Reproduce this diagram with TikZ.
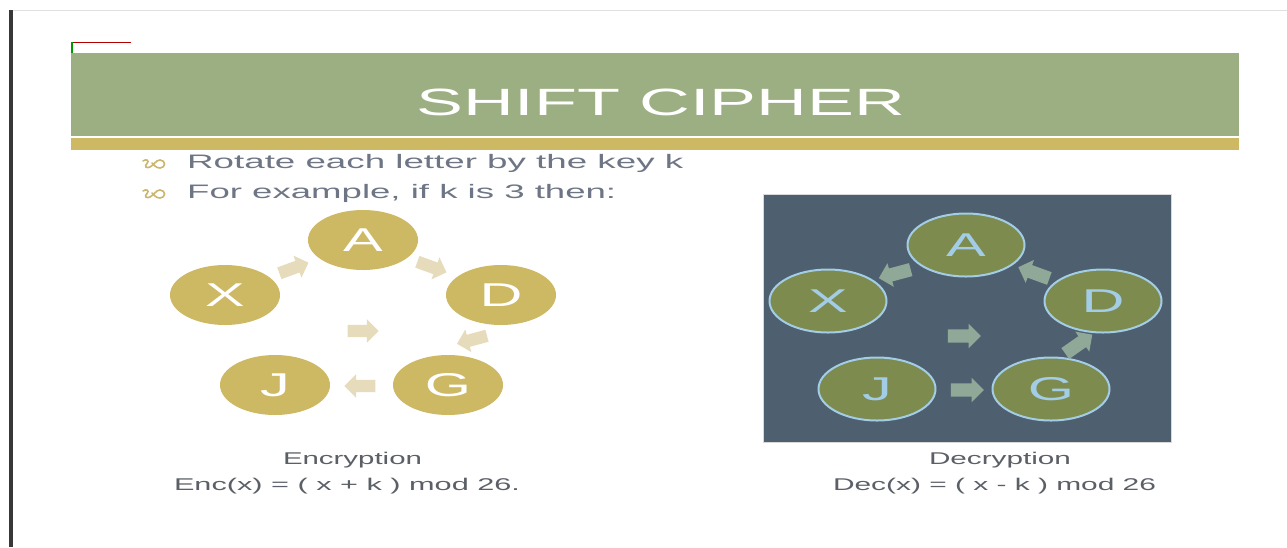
\documentclass[tikz,border=0pt]{standalone}
\usepackage{fontspec}
\setmainfont{Liberation Sans}
\usetikzlibrary{shapes.geometric,shapes.arrows}
\newcommand\wfit[2]{\resizebox{#1}{\height}{#2}}
\newcommand\widelet[1]{\scalebox{1.8}[1]{#1}}
\definecolor{titlegreen}{HTML}{9CAF83}
\definecolor{goldc}{HTML}{CDB864}
\definecolor{bodytext}{HTML}{6E7584}
\definecolor{captext}{HTML}{5B5F66}
\definecolor{slatec}{HTML}{4E6070}
\definecolor{olivec}{HTML}{7D8B4F}
\definecolor{ltblue}{HTML}{A3CDE6}
\definecolor{beigec}{HTML}{E6DCBC}
\definecolor{sagec}{HTML}{90A897}
\definecolor{bullc}{HTML}{CBB66E}
\begin{document}
\begin{tikzpicture}[x=1pt,y=-1pt,
  lcirc/.style={ellipse, fill=goldc, minimum width=110pt, minimum height=60pt, inner sep=0pt, text=white, font=\fontsize{33}{33}\selectfont},
  rcirc/.style={ellipse, fill=olivec, draw=ltblue, line width=2pt, minimum width=117pt, minimum height=63pt, inner sep=0pt, text=ltblue, font=\fontsize{33}{33}\selectfont},
  larrow/.style={single arrow, fill=beigec, draw=none, minimum height=31pt, inner xsep=0pt, inner ysep=6pt, single arrow head extend=5.5pt},
  rarrow/.style={single arrow, fill=sagec, draw=none, minimum height=33pt, inner xsep=0pt, inner ysep=6.5pt, single arrow head extend=5.5pt},
  bodyline/.style={anchor=base west, inner sep=0pt, text=bodytext, font=\fontsize{19.5}{20}\selectfont},
  capline/.style={anchor=base, inner sep=0pt, text=captext, font=\fontsize{17}{18}\selectfont},
  bullet/.style={bullc, line width=1.6pt, line cap=round}
]
\useasboundingbox (0,0) rectangle (1287,547);
\fill[white] (0,0) rectangle (1287,547);
% frame
\fill[black!78] (9,10) rectangle (12.5,547);
\draw[black!12, line width=1pt] (12.5,10.5) -- (1287,10.5);
\draw[red!70!black, line width=1pt] (72,42.5) -- (131,42.5);
\draw[green!60!black, line width=2pt] (72,42) -- (72,75);
% title bars
\fill[titlegreen] (71,53) rectangle (1239,136);
\fill[goldc] (71,138) rectangle (1239,150);
\node[anchor=base, inner sep=0pt, text=white, font=\fontsize{38}{38}\selectfont] (title) at (661,115) {\wfit{488pt}{SHIFT CIPHER}};
% bullets
\draw[bullet] (143,161) .. controls (146,158.5) and (150,160.5) .. (147,163.5) .. controls (144,166) and (146,169) .. (150,167) .. controls (154,165) and (156,160) .. (160,160) .. controls (166,160) and (166,168) .. (160,168) .. controls (156,168) and (154,165) .. (152,163);
\draw[bullet] (143,191) .. controls (146,188.5) and (150,190.5) .. (147,193.5) .. controls (144,196) and (146,199) .. (150,197) .. controls (154,195) and (156,190) .. (160,190) .. controls (166,190) and (166,198) .. (160,198) .. controls (156,198) and (154,195) .. (152,193);
\node[bodyline] (b1) at (187,168) {\wfit{496pt}{Rotate each letter by the key k}};
\node[bodyline] (b2) at (187,198) {\wfit{429pt}{For example, if k is 3 then:}};
% left diagram
\node[lcirc] (LA) at (363,240) {\widelet{A}};
\node[lcirc] (LX) at (225,295) {\widelet{X}};
\node[lcirc] (LD) at (501,295) {\widelet{D}};
\node[lcirc] (LG) at (448,385) {\widelet{G}};
\node[lcirc] (LJ) at (275,385) {\widelet{J}};
\node[larrow, rotate=20] (la1) at (291,269) {};
\node[larrow, rotate=-20] (la2) at (429,266) {};
\node[larrow, rotate=195] (la3) at (475,339) {};
\node[larrow, rotate=180] (la4) at (363,386) {};
\node[larrow] (la5) at (360,331) {};
% right diagram
\node[fill=slatec, draw=black!15, line width=0.8pt, minimum width=408pt, minimum height=248pt, inner sep=0pt, anchor=north west] (panel) at (763,194) {};
\node[rcirc] (RA) at (966,245) {\widelet{A}};
\node[rcirc] (RX) at (828,301) {\widelet{X}};
\node[rcirc] (RD) at (1103,301) {\widelet{D}};
\node[rcirc] (RJ) at (877,389) {\widelet{J}};
\node[rcirc] (RG) at (1051,389) {\widelet{G}};
\node[rarrow, rotate=195] (ra1) at (898,273) {};
\node[rarrow, rotate=160] (ra2) at (1037,274) {};
\node[rarrow, rotate=35] (ra3) at (1076,346) {};
\node[rarrow] (ra4) at (961,336) {};
\node[rarrow] (ra5) at (964,390) {};
% captions
\node[capline] (enc) at (352.5,464) {\wfit{139pt}{Encryption}};
\node[capline] (encf) at (347,490) {\wfit{346pt}{Enc(x) = ( x + k ) mod 26.}};
\node[capline] (dec) at (1000,464) {\wfit{142pt}{Decryption}};
\node[capline] (decf) at (994.5,490) {\wfit{323pt}{Dec(x) = ( x - k ) mod 26}};
\end{tikzpicture}
\end{document}
